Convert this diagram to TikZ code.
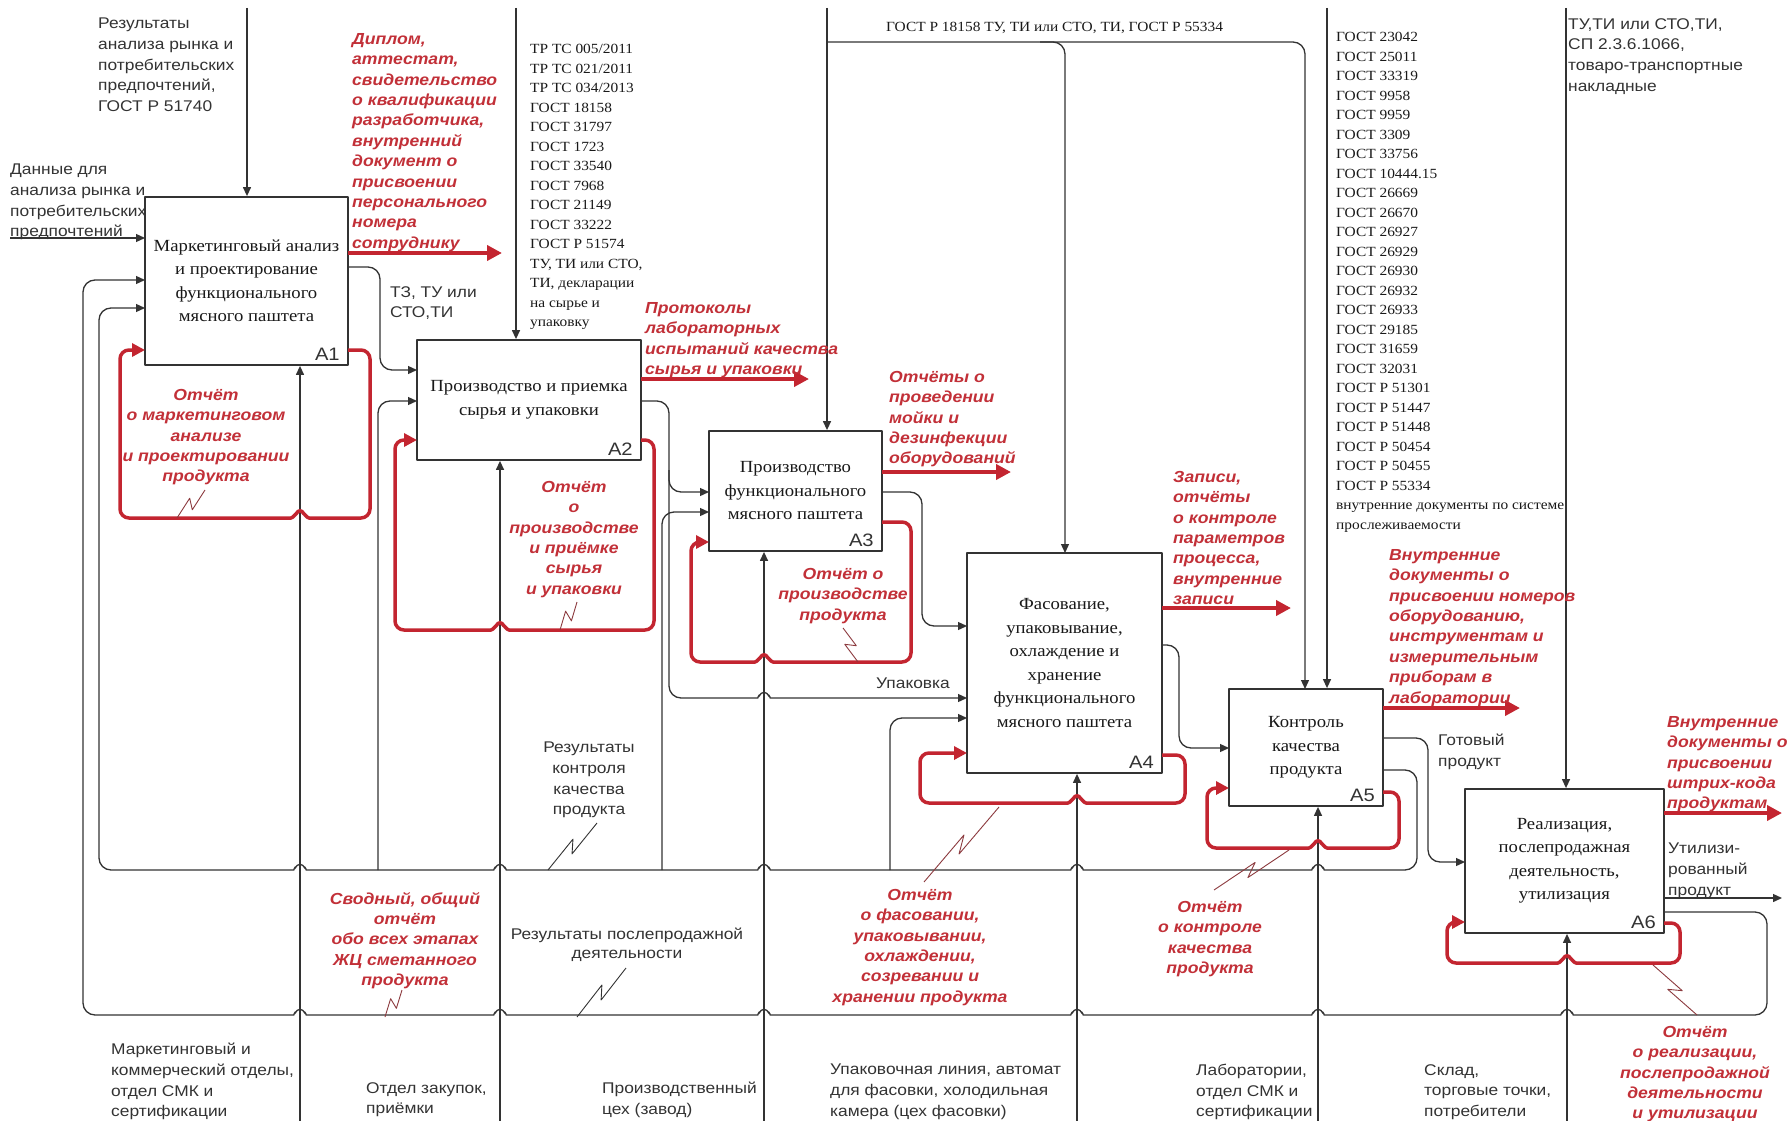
\documentclass[tikz,border=0pt]{standalone}
\usepackage{fontspec}
\setmainfont{Liberation Serif}[FakeStretch=1.1]
\newfontfamily\lsans{Liberation Sans}[FakeStretch=1.12]
\newfontfamily\lred{Liberation Sans}[FakeStretch=1.1]
\usetikzlibrary{arrows.meta,calc}
\definecolor{ink}{HTML}{333333}
\definecolor{rd}{HTML}{C32530}
\definecolor{rdt}{HTML}{C23038}
\definecolor{zr}{HTML}{8C3A3E}
\newcommand\fntS{\lsans\fontsize{15.5}{20.7}\selectfont}
\newcommand\fntR{\lred\bfseries\itshape\fontsize{16}{20.4}\selectfont}
\newcommand\fntT{\fontsize{14}{19.5}\selectfont}
\newcommand\fntB{\fontsize{17}{23.5}\selectfont}
\newcommand\zz[3][ink]{\draw[#1,line width=0.9pt] (#2) -- ($(#2)!0.58!(#3)!5pt!90:(#3)$) -- ($(#2)!0.42!(#3)!5pt!-90:(#3)$) -- (#3);}
\begin{document}
\begin{tikzpicture}[x=1pt,y=-1pt,line join=round,
  box/.style={draw=ink,line width=1.8pt,fill=white,inner sep=2pt,align=center,font=\fntB,text=black!90},
  idl/.style={font=\lsans\fontsize{18}{20}\selectfont,inner sep=0pt,anchor=south east,text=ink},
  ln/.style={draw=ink,line width=1.3pt,rounded corners=12pt},
  arr/.style={ln,-{Triangle[length=9pt,width=8pt]}},
  rarr/.style={draw=rd,line width=4pt,-{Triangle[length=15pt,width=15pt]}},
  rloop/.style={draw=rd,line width=3.5pt,rounded corners=9pt,-{Triangle[length=13pt,width=13pt]}},
  lab/.style={font=\fntS,text=ink,inner sep=0pt,anchor=north west,align=left,yshift=-6pt,execute at begin node=\strut},
  clab/.style={lab,anchor=north,align=center},
  rlab/.style={font=\fntR,text=rdt,inner sep=0pt,anchor=north west,align=left,yshift=-6pt,execute at begin node=\strut},
  crlab/.style={rlab,anchor=north,align=center},
  tlab/.style={font=\fntT,text=black!90,inner sep=0pt,anchor=north west,align=left,yshift=-6pt,execute at begin node=\strut},
  bl/.style 2 args={insert path={-- (#1+18,#2) .. controls (#1+7,#2) and (#1+3,#2-6) .. (#1,#2-12) .. controls (#1-3,#2-6) and (#1-7,#2) .. (#1-18,#2)}},
  br/.style 2 args={insert path={-- (#1-18,#2) .. controls (#1-7,#2) and (#1-3,#2-6) .. (#1,#2-12) .. controls (#1+3,#2-6) and (#1+7,#2) .. (#1+18,#2)}}]
\fill[white] (0,0) rectangle (1791,1121);
\useasboundingbox (0,0) rectangle (1791,1121);

% ---------- label clipped by A1
\node[lab] (lin) at (10,158) {Данные для\\анализа рынка и\\потребительских\\предпочтений};

% ---------- coordinates
\coordinate (t1) at (247,8);  \coordinate (t2) at (516,8);  \coordinate (t3) at (827,8);
\coordinate (t5) at (1327,8); \coordinate (t6) at (1566,8);
\coordinate (j3) at (827,42); \coordinate (j3b) at (1040,42);
\coordinate (c4) at (1065,553); \coordinate (c5) at (1305,689);
\coordinate (m1) at (300,1121); \coordinate (m2) at (500,1121); \coordinate (m3) at (764,1121);
\coordinate (m4) at (1077,1121); \coordinate (m5) at (1318,1121); \coordinate (m6) at (1567,1121);
\coordinate (e1) at (10,238); \coordinate (a1w1) at (145,238);
\coordinate (a1w2) at (145,280); \coordinate (a1w3) at (145,308);
\coordinate (a6e2) at (1664,912); \coordinate (a5e2) at (1383,770);
\coordinate (b1) at (378,870); \coordinate (a2w2) at (417,401);
\coordinate (b2) at (662,870); \coordinate (a3w2) at (709,512);
\coordinate (b3) at (890,870); \coordinate (a4w3) at (967,718);
\coordinate (a1e1) at (348,267); \coordinate (a2w1) at (417,370);
\coordinate (a2e1) at (641,401); \coordinate (a3w1) at (709,492);
\coordinate (j2) at (669,470); \coordinate (a4w2) at (967,698);
\coordinate (a3e1) at (882,492); \coordinate (a4w1) at (967,626);
\coordinate (a4e1) at (1162,645); \coordinate (a5w1) at (1229,748);
\coordinate (a5e1) at (1383,738); \coordinate (a6w1) at (1465,862);
\coordinate (a6e1) at (1664,898); \coordinate (o6) at (1782,898);

% ---------- boxes
\node[box,minimum width=203pt,minimum height=168pt] (A1) at (246.5,281) {Маркетинговый анализ\\и проектирование\\функционального\\мясного паштета};
\node[box,minimum width=224pt,minimum height=120pt] (A2) at (529,400) {Производство и приемка\\сырья и упаковки};
\node[box,minimum width=173pt,minimum height=120pt] (A3) at (795.5,491) {Производство\\функционального\\мясного паштета};
\node[box,minimum width=195pt,minimum height=220pt] (A4) at (1064.5,663) {Фасование,\\упаковывание,\\охлаждение и\\хранение\\функционального\\мясного паштета};
\node[box,minimum width=154pt,minimum height=117pt] (A5) at (1306,747.5) {Контроль\\качества\\продукта};
\node[box,minimum width=199pt,minimum height=144pt] (A6) at (1564.5,861) {Реализация,\\послепродажная\\деятельность,\\утилизация};
\foreach \b in {1,...,6}{\node[idl] (id\b) at ($(A\b.south east)+(-9,-5)$) {A\b};}

% ---------- controls
\draw[arr] (t1) -- (t1 |- A1.north);
\draw[arr] (t2) -- (t2 |- A2.north);
\draw[arr] (t3) -- (t3 |- A3.north);
\draw[arr] (j3) -- (1065,42) -- (c4);
\draw[arr] (j3b) -- (1305,42) -- (c5);
\draw[arr] (t5) -- (t5 |- A5.north);
\draw[arr] (t6) -- (t6 |- A6.north);

% ---------- mechanisms
\foreach \b in {1,...,6}{\draw[arr] (m\b) -- (m\b |- A\b.south);}

% ---------- inputs / outputs
\draw[arr] (e1) -- (a1w1);
\draw[arr] (a6e2) -- (1767,912) -- (1767,1015) [bl={1567}{1015}] [bl={1318}{1015}] [bl={1077}{1015}] [bl={764}{1015}] [bl={500}{1015}] [bl={300}{1015}] -- (83,1015) -- (83,280) -- (a1w2);
\draw[arr] (a5e2) -- (1417,770) -- (1417,870) [bl={1318}{870}] [bl={1077}{870}] [bl={764}{870}] [bl={500}{870}] [bl={300}{870}] -- (99,870) -- (99,308) -- (a1w3);
\draw[arr] (b1) -- (378,401) -- (a2w2);
\draw[arr] (b2) -- (662,512) -- (a3w2);
\draw[arr] (b3) -- (890,718) -- (a4w3);
\draw[arr] (a1e1) -- (380,267) -- (380,370) -- (a2w1);
\draw[arr] (a2e1) -- (669,401) -- (669,492) -- (a3w1);
\draw[arr] (j2) -- (669,698) [br={764}{698}] -- (a4w2);
\draw[arr] (a3e1) -- (922,492) -- (922,626) -- (a4w1);
\draw[arr] (a4e1) -- (1179,645) -- (1179,748) -- (a5w1);
\draw[arr] (a5e1) -- (1428,738) -- (1428,862) -- (a6w1);
\draw[arr] (a6e1) -- (o6);

% ---------- red outputs
\coordinate (r1s) at (348,253); \coordinate (r1e) at (502,253);
\coordinate (r2s) at (641,379); \coordinate (r2e) at (809,379);
\coordinate (r3s) at (882,472); \coordinate (r3e) at (1011,472);
\coordinate (r4s) at (1162,608); \coordinate (r4e) at (1291,608);
\coordinate (r5s) at (1383,708); \coordinate (r5e) at (1520,708);
\coordinate (r6s) at (1664,813); \coordinate (r6e) at (1782,813);
\foreach \b in {1,...,6}{\draw[rarr] (r\b s) -- (r\b e);}

% ---------- red loops
\coordinate (l1s) at (348,350); \coordinate (l1e) at (145,350);
\coordinate (l2s) at (641,440); \coordinate (l2e) at (417,440);
\coordinate (l3s) at (882,522); \coordinate (l3e) at (709,542);
\coordinate (l4s) at (1162,755); \coordinate (l4e) at (967,753);
\coordinate (l5s) at (1383,792); \coordinate (l5e) at (1229,788);
\coordinate (l6s) at (1664,923); \coordinate (l6e) at (1465,922);
\draw[rloop] (l1s) -- (370,350) -- (370,518) [bl={300}{518}] -- (120,518) -- (120,350) -- (l1e);
\draw[rloop] (l2s) -- (654,440) -- (654,630) [bl={500}{630}] -- (395,630) -- (395,440) -- (l2e);
\draw[rloop] (l3s) -- (911,522) -- (911,662) [bl={764}{662}] -- (691,662) -- (691,542) -- (l3e);
\draw[rloop] (l4s) -- (1185,755) -- (1185,803) [bl={1077}{803}] -- (920,803) -- (920,753) -- (l4e);
\draw[rloop] (l5s) -- (1399,792) -- (1399,848) [bl={1318}{848}] -- (1207,848) -- (1207,788) -- (l5e);
\draw[rloop] (l6s) -- (1680,923) -- (1680,963) [bl={1567}{963}] -- (1447,963) -- (1447,922) -- (l6e);

% ---------- squiggles
\coordinate (z1a) at (177,518); \coordinate (z1b) at (205,490);
\coordinate (z2a) at (560,630); \coordinate (z2b) at (577,602);
\coordinate (z3a) at (858,662); \coordinate (z3b) at (843,628);
\coordinate (z4a) at (924,882); \coordinate (z4b) at (999,807);
\coordinate (z5a) at (1214,890); \coordinate (z5b) at (1289,850);
\coordinate (z6a) at (1697,1015); \coordinate (z6b) at (1653,965);
\coordinate (z7a) at (385,1017); \coordinate (z7b) at (402,990);
\coordinate (z8a) at (548,870); \coordinate (z8b) at (597,823);
\coordinate (z9a) at (577,1017); \coordinate (z9b) at (626,968);
\zz[zr]{z1a}{z1b} \zz[zr]{z2a}{z2b} \zz[zr]{z3a}{z3b} \zz[zr]{z4a}{z4b}
\zz[zr]{z5a}{z5b} \zz[zr]{z6a}{z6b} \zz[zr]{z7a}{z7b}
\zz{z8a}{z8b} \zz{z9a}{z9b}

% ---------- black labels
\node[lab] (lt1) at (98,12) {Результаты\\анализа рынка и\\потребительских\\предпочтений,\\ГОСТ Р 51740};
\node[lab] (lo1) at (390,280) {ТЗ, ТУ или\\СТО,ТИ};
\node[lab] (lup) at (876,668) {Упаковка};
\node[lab] (lt6) at (1568,12) {ТУ,ТИ или СТО,ТИ,\\СП 2.3.6.1066,\\товаро-транспортные\\накладные};
\node[lab] (lgp) at (1438,728) {Готовый\\продукт};
\node[lab] (lut) at (1668,837) {Утилизи-\\рованный\\продукт};
\node[clab] (lkk) at (589,736) {Результаты\\контроля\\качества\\продукта};
\node[clab,font=\lsans\fontsize{15.5}{19}\selectfont] (lpp) at (627,922) {Результаты послепродажной\\деятельности};
\node[lab] (lb1) at (111,1037) {Маркетинговый и\\коммерческий отделы,\\отдел СМК и\\сертификации};
\node[lab] (lb2) at (366,1076) {Отдел закупок,\\приёмки};
\node[lab] (lb3) at (602,1076) {Производственный\\цех (завод)};
\node[lab] (lb4) at (830,1058) {Упаковочная линия, автомат\\для фасовки, холодильная\\камера (цех фасовки)};
\node[lab] (lb5) at (1196,1058) {Лаборатории,\\отдел СМК и\\сертификации};
\node[lab] (lb6) at (1424,1058) {Склад,\\торговые точки,\\потребители};

% ---------- serif lists
\node[tlab] (lg3) at (886,12) {ГОСТ Р 18158 ТУ, ТИ или СТО, ТИ, ГОСТ Р 55334};
\node[tlab] (lg2) at (530,38) {ТР ТС 005/2011\\ТР ТС 021/2011\\ТР ТС 034/2013\\ГОСТ 18158\\ГОСТ 31797\\ГОСТ 1723\\ГОСТ 33540\\ГОСТ 7968\\ГОСТ 21149\\ГОСТ 33222\\ГОСТ Р 51574\\ТУ, ТИ или СТО,\\ТИ, декларации\\на сырье и\\упаковку};
\node[tlab] (lg5) at (1336,26) {ГОСТ 23042\\ГОСТ 25011\\ГОСТ 33319\\ГОСТ 9958\\ГОСТ 9959\\ГОСТ 3309\\ГОСТ 33756\\ГОСТ 10444.15\\ГОСТ 26669\\ГОСТ 26670\\ГОСТ 26927\\ГОСТ 26929\\ГОСТ 26930\\ГОСТ 26932\\ГОСТ 26933\\ГОСТ 29185\\ГОСТ 31659\\ГОСТ 32031\\ГОСТ Р 51301\\ГОСТ Р 51447\\ГОСТ Р 51448\\ГОСТ Р 50454\\ГОСТ Р 50455\\ГОСТ Р 55334\\внутренние документы по системе\\прослеживаемости};

% ---------- red labels
\node[rlab] (rl1) at (352,27) {Диплом,\\аттестат,\\свидетельство\\о квалификации\\разработчика,\\внутренний\\документ о\\присвоении\\персонального\\номера\\сотруднику};
\node[rlab] (rl2) at (645,296) {Протоколы\\лабораторных\\испытаний качества\\сырья и упаковки};
\node[rlab] (rl3) at (889,365) {Отчёты о\\проведении\\мойки и\\дезинфекции\\оборудований};
\node[rlab] (rl4) at (1173,465) {Записи,\\отчёты\\о контроле\\параметров\\процесса,\\внутренние\\записи};
\node[rlab] (rl5) at (1389,543) {Внутренние\\документы о\\присвоении номеров\\оборудованию,\\инструментам и\\измерительным\\приборам в\\лаборатории};
\node[rlab] (rl6) at (1667,710) {Внутренние\\документы о\\присвоении\\штрих-кода\\продуктам};
\node[crlab] (rq1) at (206,383) {Отчёт\\о маркетинговом\\анализе\\и проектировании\\продукта};
\node[crlab] (rq2) at (574,475) {Отчёт\\о\\производстве\\и приёмке\\сырья\\и упаковки};
\node[crlab] (rq3) at (843,562) {Отчёт о\\производстве\\продукта};
\node[crlab] (rq4) at (920,883) {Отчёт\\о фасовании,\\упаковывании,\\охлаждении,\\созревании и\\хранении продукта};
\node[crlab] (rq5) at (1210,895) {Отчёт\\о контроле\\качества\\продукта};
\node[crlab] (rq6) at (1695,1020) {Отчёт\\о реализации,\\послепродажной\\деятельности\\и утилизации};
\node[crlab] (rq7) at (405,886) {Сводный, общий\\отчёт\\обо всех этапах\\ЖЦ сметанного\\продукта};
\end{tikzpicture}
\end{document}
